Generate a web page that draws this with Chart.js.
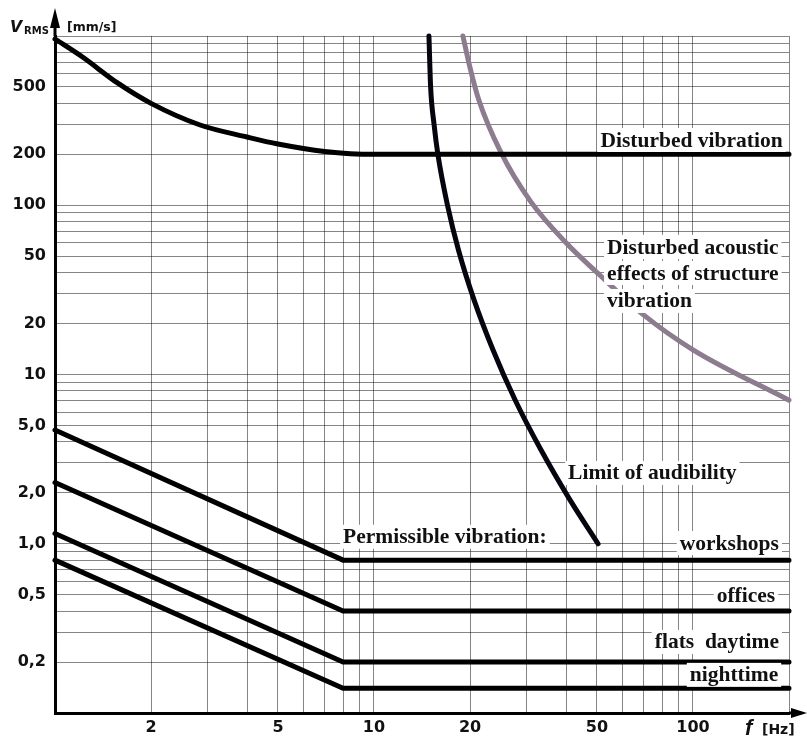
<!DOCTYPE html>
<html>
<head>
<meta charset="utf-8">
<script src="https://cdn.jsdelivr.net/npm/chart.js@4.4.1/dist/chart.umd.min.js"></script>
<style>
  html, body { margin: 0; padding: 0; background: #fff; }
</style>
</head>
<body>
<canvas id="chart" width="807" height="740"></canvas>
<script>
// grid lines (log paper) and labelled ticks
const xGridValues = [1, 2, 3, 4, 5, 6, 7, 8, 9, 10, 20, 30, 40, 50, 60, 70, 80, 90, 100, 200];
const xTickValues = [2, 5, 10, 20, 50, 100];
const xTickText = ["2", "5", "10", "20", "50", "100"];

const yGridValues = [0.1, 0.2, 0.3, 0.4, 0.5, 0.6, 0.7, 0.8, 0.9,
  1, 2, 3, 4, 5, 6, 7, 8, 9,
  10, 20, 30, 40, 50, 60, 70, 80, 90,
  100, 200, 300, 400, 500, 600, 700, 800, 900, 1000];
const yTickValues = [0.2, 0.5, 1, 2, 5, 10, 20, 50, 100, 200, 500];
const yTickText = ["0,2", "0,5", "1,0", "2,0", "5,0", "10", "20", "50", "100", "200", "500"];

// curves, frequency [Hz] / v_RMS [mm/s]
const fDisturbed = [1, 1.22, 1.57, 2, 2.85, 4, 5, 7, 10, 200];
const vDisturbed = [960, 751, 528, 400, 298, 253, 230, 208, 200, 200];

const fAudibility = [14.87, 15.05, 15.43, 15.86, 17.0, 18.4, 20.6, 23.6, 27.7, 33.4, 41.2, 50.4];
const vAudibility = [1000, 500, 300, 200, 100, 54.4, 27.5, 14, 7.07, 3.58, 1.81, 1.0];

const fAcoustic = [19, 20, 21.3, 25, 31, 40, 51, 70, 100, 200];
const vAcoustic = [1000, 650, 420, 205, 105, 60, 38.7, 22.5, 14, 7.05];

const fPermissible = [1, 8, 200];
const vWorkshops = [4.7, 0.8, 0.8];
const vOffices = [2.3, 0.4, 0.4];
const vFlatsDay = [1.15, 0.2, 0.2];
const vFlatsNight = [0.8, 0.14, 0.14];

// text notes placed in data coordinates
const noteText = ["Disturbed vibration", "Disturbed acoustic", "effects of structure", "vibration",
  "Limit of audibility", "Permissible vibration:", "workshops", "offices", "flats  daytime", "nighttime"];
const noteX = [191, 53.8, 53.8, 53.8, 40.6, 8.0, 186, 181, 186, 185];
const noteY = [243, 56.7, 39.8, 27.2, 2.62, 1.10, 1.01, 0.498, 0.263, 0.168];
const noteAlign = ["right", "left", "left", "left", "left", "left", "right", "right", "right", "right"];

const GRID = "rgba(0,0,0,0.48)";
const PURPLE = "#8d7b8f";

function pts(xs, ys) {
  return xs.map((x, i) => ({ x: x, y: ys[i] }));
}

function curve(label, xs, ys, color, smooth) {
  return {
    label: label,
    data: pts(xs, ys),
    showLine: true,
    borderColor: color,
    backgroundColor: color,
    borderWidth: 5,
    pointRadius: 0,
    borderCapStyle: "round",
    cubicInterpolationMode: smooth ? "monotone" : "default",
    tension: 0,
    clip: false
  };
}

const notesPlugin = {
  id: "notes",
  afterDatasetsDraw(chart) {
    const ctx = chart.ctx;
    const xs = chart.scales.x;
    const ys = chart.scales.y;
    ctx.save();
    ctx.font = "bold 21.5px 'Liberation Serif'";
    ctx.textBaseline = "middle";
    noteText.forEach((t, i) => {
      const px = xs.getPixelForValue(noteX[i]);
      const py = ys.getPixelForValue(noteY[i]);
      const w = ctx.measureText(t).width;
      const left = noteAlign[i] === "right" ? px - w : px;
      ctx.fillStyle = "#fff";
      ctx.fillRect(left - 3, py - 12, w + 6, 24);
      ctx.fillStyle = "#111";
      ctx.textAlign = "left";
      ctx.fillText(t, left, py + 1);
    });
    ctx.restore();
  },
  afterDraw(chart) {
    const ctx = chart.ctx;
    const a = chart.chartArea;
    ctx.save();
    ctx.fillStyle = "#000";
    ctx.strokeStyle = "#000";
    ctx.lineWidth = 3;
    // y arrow
    ctx.beginPath();
    ctx.moveTo(a.left, a.top);
    ctx.lineTo(a.left, a.top - 12);
    ctx.stroke();
    ctx.beginPath();
    ctx.moveTo(a.left, a.top - 28);
    ctx.lineTo(a.left - 5, a.top - 8);
    ctx.lineTo(a.left + 5, a.top - 8);
    ctx.closePath();
    ctx.fill();
    // x arrow
    ctx.beginPath();
    ctx.moveTo(a.right, a.bottom);
    ctx.lineTo(a.right + 8, a.bottom);
    ctx.stroke();
    ctx.beginPath();
    ctx.moveTo(a.right + 18, a.bottom);
    ctx.lineTo(a.right + 2, a.bottom - 5);
    ctx.lineTo(a.right + 2, a.bottom + 5);
    ctx.closePath();
    ctx.fill();

    // axis titles
    ctx.fillStyle = "#111";
    ctx.textAlign = "left";
    ctx.textBaseline = "alphabetic";
    ctx.font = "italic bold 22px 'Liberation Sans'";
    ctx.fillText("v", 10, a.top - 4);
    ctx.font = "bold 10px 'DejaVu Sans'";
    ctx.fillText("RMS", 24, a.top - 2);
    ctx.font = "bold 12.5px 'DejaVu Sans'";
    ctx.fillText("[mm/s]", 67, a.top - 5);

    ctx.font = "italic bold 22px 'Liberation Sans'";
    ctx.fillText("f", 745, a.bottom + 22);
    ctx.font = "bold 14px 'DejaVu Sans'";
    ctx.fillText("[Hz]", 762, a.bottom + 21);
    ctx.restore();
  }
};

const tickFont = { family: "DejaVu Sans", size: 16, weight: "bold" };

new Chart(document.getElementById("chart"), {
  type: "scatter",
  data: {
    datasets: [
      curve("Disturbed vibration", fDisturbed, vDisturbed, "#000", true),
      curve("Limit of audibility", fAudibility, vAudibility, "#05050f", true),
      curve("Disturbed acoustic effects of structure vibration", fAcoustic, vAcoustic, PURPLE, true),
      curve("workshops", fPermissible, vWorkshops, "#000", false),
      curve("offices", fPermissible, vOffices, "#000", false),
      curve("flats daytime", fPermissible, vFlatsDay, "#000", false),
      curve("nighttime", fPermissible, vFlatsNight, "#000", false)
    ]
  },
  options: {
    responsive: false,
    animation: false,
    layout: { padding: { top: 36, right: 18, left: 0, bottom: 0 } },
    plugins: { legend: { display: false }, tooltip: { enabled: false } },
    scales: {
      x: {
        type: "logarithmic",
        min: 1,
        max: 200,
        afterBuildTicks: s => { s.ticks = xGridValues.map(v => ({ value: v })); },
        afterFit: s => { s.height = 27; },
        ticks: {
          autoSkip: false,
          maxRotation: 0,
          padding: 5,
          color: "#111",
          font: tickFont,
          callback: v => {
            const i = xTickValues.indexOf(v);
            return i >= 0 ? xTickText[i] : "";
          }
        },
        grid: { color: GRID, lineWidth: 1, drawTicks: false },
        border: { color: "#000", width: 3 }
      },
      y: {
        type: "logarithmic",
        min: 0.1,
        max: 1000,
        afterBuildTicks: s => { s.ticks = yGridValues.map(v => ({ value: v })); },
        afterFit: s => { s.width = 55; },
        ticks: {
          autoSkip: false,
          padding: 9,
          color: "#111",
          font: tickFont,
          callback: v => {
            const i = yTickValues.indexOf(v);
            return i >= 0 ? yTickText[i] : "";
          }
        },
        grid: { color: GRID, lineWidth: 1, drawTicks: false },
        border: { color: "#000", width: 3 }
      }
    }
  },
  plugins: [notesPlugin]
});
</script>
</body>
</html>
